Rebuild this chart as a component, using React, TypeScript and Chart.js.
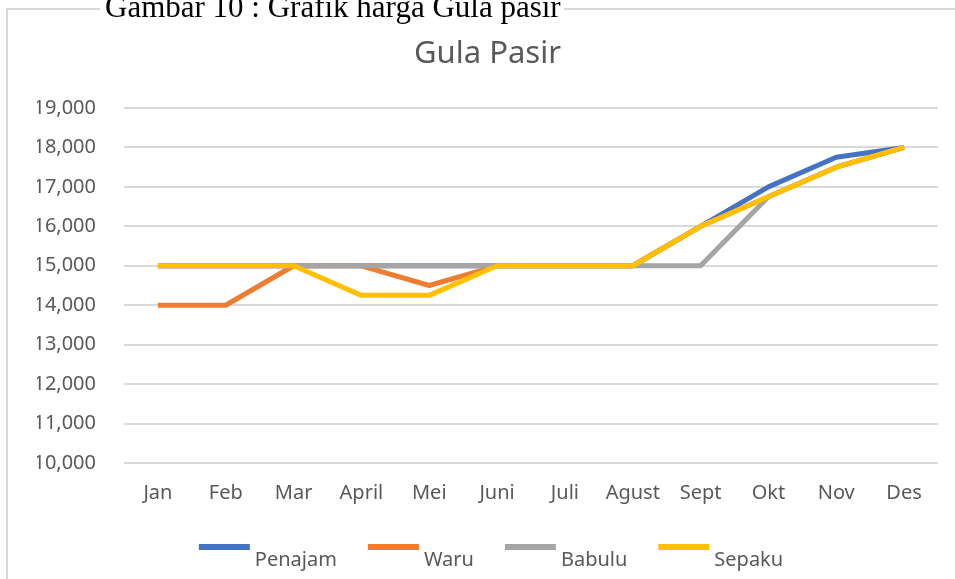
import React, { useEffect, useRef } from "react";
import { Chart, registerables } from "chart.js";

Chart.register(...registerables);

const months = ["Jan", "Feb", "Mar", "April", "Mei", "Juni", "Juli", "Agust", "Sept", "Okt", "Nov", "Des"];
const penajam = [15000, 15000, 15000, 15000, 15000, 15000, 15000, 15000, 16000, 17000, 17750, 18000];
const waru = [14000, 14000, 15000, 15000, 14500, 15000, 15000, 15000, 16000, 16750, 17500, 18000];
const babulu = [15000, 15000, 15000, 15000, 15000, 15000, 15000, 15000, 15000, 16750, 17500, 18000];
const sepaku = [15000, 15000, 15000, 14250, 14250, 15000, 15000, 15000, 16000, 16750, 17500, 18000];
const seriesNames = ["Penajam", "Waru", "Babulu", "Sepaku"];
const seriesColors = ["#4472C4", "#ED7D31", "#A5A5A5", "#FFC000"];
const yMin = 10000;
const yMax = 19000;
const yStep = 1000;
const chartTitle = "Gula Pasir";
const caption = "Gambar 10 : Grafik harga Gula pasir";

const FONT = "'Noto Sans', 'Open Sans', sans-serif";
const TEXT = "#595959";

const legendPlugin = {
  id: "excelLegend",
  afterDraw(chart: any) {
    const ctx = chart.ctx;
    const ds = chart.data.datasets;
    ctx.save();
    ctx.font = `20px ${FONT}`;
    const lineW = 51;
    const gap = 5;
    const itemGap = 31;
    const widths = ds.map((d: any) => ctx.measureText(d.label).width);
    const total = widths.reduce((a: number, w: number) => a + lineW + gap + w, 0) + itemGap * (ds.length - 1);
    let x = 491 - total / 2;
    ds.forEach((d: any, i: number) => {
      ctx.fillStyle = d.borderColor;
      ctx.fillRect(x, 544, lineW, 6);
      ctx.fillStyle = TEXT;
      ctx.textBaseline = "alphabetic";
      ctx.textAlign = "left";
      ctx.fillText(d.label, x + lineW + gap, 566);
      x += lineW + gap + widths[i] + itemGap;
    });
    ctx.restore();
  },
};

export default function App() {
  const ref = useRef<HTMLCanvasElement>(null);
  useEffect(() => {
    if (!ref.current) return;
    const series = [penajam, waru, babulu, sepaku];
    const chart = new Chart(ref.current, {
      type: "line",
      data: {
        labels: months,
        datasets: series.map((s, i) => ({
          label: seriesNames[i],
          data: s,
          borderColor: seriesColors[i],
          backgroundColor: seriesColors[i],
          borderWidth: 5,
          pointRadius: 0,
          tension: 0,
          borderJoinStyle: "round" as const,
          borderCapStyle: "butt" as const,
          order: series.length - i,
        })),
      },
      options: {
        animation: false,
        responsive: false,
        maintainAspectRatio: false,
        layout: { padding: { left: 37, right: 37, top: 0, bottom: 0 } },
        plugins: {
          legend: { display: false },
          tooltip: { enabled: false },
          title: {
            display: true,
            text: chartTitle,
            color: TEXT,
            font: { family: FONT, size: 31, weight: "normal" },
            padding: { top: 36, bottom: 34.8 },
          },
        },
        scales: {
          x: {
            offset: true,
            grid: { display: false },
            border: { display: false },
            ticks: { color: TEXT, font: { family: FONT, size: 20 }, padding: 10, maxRotation: 0, autoSkip: false },
            afterFit: (s: any) => {
              s.height = 116;
            },
          },
          y: {
            min: yMin,
            max: yMax,
            grid: { color: "#D9D9D9", lineWidth: 2, drawTicks: false },
            border: { display: false },
            ticks: {
              stepSize: yStep,
              color: TEXT,
              font: { family: FONT, size: 20 },
              padding: 28,
              callback: (v: any) => Number(v).toLocaleString("en-US"),
            },
            afterFit: (s: any) => {
              s.width = 87;
            },
          },
        },
      },
      plugins: [legendPlugin],
    });
    return () => chart.destroy();
  }, []);

  return (
    <div style={{ position: "absolute", left: 0, top: 0, width: 955, height: 579, overflow: "hidden", background: "#fff" }}>
      <div
        style={{
          position: "absolute",
          left: 6,
          top: 8,
          width: 2000,
          height: 2000,
          border: "2px solid #D9D9D9",
        }}
      />
      <canvas ref={ref} width={975} height={579} style={{ position: "absolute", left: 0, top: 0, width: 975, height: 579 }} />
      <div
        style={{
          position: "absolute",
          left: 100,
          top: -9,
          padding: "0 3px 0 5px",
          background: "#fff",
          fontFamily: "'Liberation Serif', 'Times New Roman', serif",
          fontSize: 31,
          lineHeight: "31px",
          color: "#000",
          whiteSpace: "nowrap",
        }}
      >
        {caption}
      </div>
    </div>
  );
}
